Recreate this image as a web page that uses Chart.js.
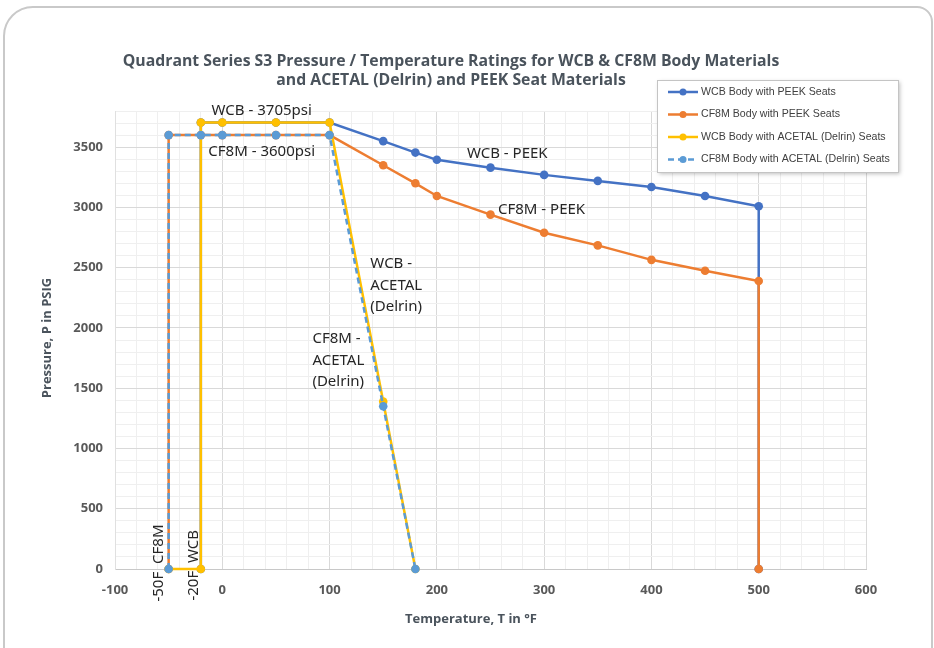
<!DOCTYPE html>
<html lang="en">
<head>
    <meta charset="UTF-8">
    <title>Quadrant Series S3 Pressure / Temperature Ratings</title>
    <script src="https://cdn.jsdelivr.net/npm/chart.js"></script>
    <style>
        html, body { margin: 0; padding: 0; background: #fff; }
        #card {
            position: absolute; left: 3px; top: 6px;
            width: 930px; height: 700px;
            border: 2px solid #c9c9c9;
            border-radius: 30px 16px 0 0;
            box-sizing: border-box;
        }
        #chart-container { position: absolute; left: 0; top: 0; width: 934px; height: 648px; }
    </style>
</head>
<body>
    <div id="card"></div>
    <div id="chart-container">
        <canvas id="ratingChart" width="934" height="648"></canvas>
    </div>

    <script>
        // series (temperature in F, pressure in psig)
        var wcbPeekT = [-20, -20, 0, 50, 100, 150, 180, 200, 250, 300, 350, 400, 450, 500, 500];
        var wcbPeekP = [0, 3705, 3705, 3705, 3705, 3550, 3455, 3395, 3330, 3270, 3220, 3170, 3095, 3010, 0];
        var cf8mPeekT = [-50, -50, -20, 0, 50, 100, 150, 180, 200, 250, 300, 350, 400, 450, 500, 500];
        var cf8mPeekP = [0, 3600, 3600, 3600, 3600, 3600, 3350, 3200, 3095, 2940, 2790, 2685, 2565, 2475, 2390, 0];
        var wcbAcetalT = [-50, -20, -20, 0, 50, 100, 150, 180];
        var wcbAcetalP = [0, 0, 3705, 3705, 3705, 3705, 1390, 0];
        var cf8mAcetalT = [-50, -50, -20, 0, 50, 100, 150, 180];
        var cf8mAcetalP = [0, 3600, 3600, 3600, 3600, 3600, 1350, 0];

        var seriesNames = ['WCB Body with PEEK Seats', 'CF8M Body with PEEK Seats',
            'WCB Body with ACETAL (Delrin) Seats', 'CF8M Body with ACETAL (Delrin) Seats'];

        var titleLines = ['Quadrant Series S3 Pressure / Temperature Ratings for WCB & CF8M Body Materials',
            'and ACETAL (Delrin) and PEEK Seat Materials'];
        var xTitle = 'Temperature, T in \u00B0F';
        var yTitle = 'Pressure, P in PSIG';

        // text notes placed at data coordinates (left edge, middle of first line)
        var notes = [
            { text: ['WCB - 3705psi'], t: -10, p: 3800 },
            { text: ['CF8M - 3600psi'], t: -13, p: 3460 },
            { text: ['WCB - PEEK'], t: 228, p: 3443 },
            { text: ['CF8M - PEEK'], t: 257, p: 2979 },
            { text: ['WCB -', 'ACETAL', '(Delrin)'], t: 138, p: 2530 },
            { text: ['CF8M -', 'ACETAL', '(Delrin)'], t: 84, p: 1908 }
        ];
        var sideNotes = [
            { text: '-50F  CF8M', t: -59, p: -270 },
            { text: '-20F  WCB', t: -27, p: -262 }
        ];

        function pts(ts, ps) {
            return ts.map(function (t, i) { return { x: t, y: ps[i] }; });
        }

        var overlay = {
            id: 'overlay',
            afterDatasetsDraw: function (chart) {
                var ctx = chart.ctx, xs = chart.scales.x, ys = chart.scales.y;
                ctx.save();
                ctx.fillStyle = '#262626';
                ctx.font = '15px "Noto Sans"';
                ctx.textAlign = 'left';
                ctx.textBaseline = 'middle';
                notes.forEach(function (n) {
                    var x = xs.getPixelForValue(n.t), y = ys.getPixelForValue(n.p);
                    n.text.forEach(function (line, i) { ctx.fillText(line, x, y + i * 21.5); });
                });
                sideNotes.forEach(function (n) {
                    ctx.save();
                    ctx.translate(xs.getPixelForValue(n.t), ys.getPixelForValue(n.p));
                    ctx.rotate(-Math.PI / 2);
                    ctx.fillText(n.text, 0, 0);
                    ctx.restore();
                });

                // titles
                ctx.fillStyle = '#4a535c';
                ctx.textAlign = 'center';
                ctx.font = 'bold 15.8px "Open Sans"';
                ctx.fillText(titleLines[0], 451, 61);
                ctx.fillText(titleLines[1], 451, 80);
                ctx.font = 'bold 13px "Open Sans"';
                ctx.fillText(xTitle, 471, 619);
                ctx.save();
                ctx.translate(47, 338);
                ctx.rotate(-Math.PI / 2);
                ctx.fillText(yTitle, 0, 0);
                ctx.restore();

                // legend box
                var bx = 657, by = 80, bw = 241, bh = 92;
                ctx.save();
                ctx.shadowColor = 'rgba(0,0,0,0.25)';
                ctx.shadowBlur = 4;
                ctx.shadowOffsetX = 2;
                ctx.shadowOffsetY = 2;
                ctx.fillStyle = '#fff';
                ctx.fillRect(bx, by, bw, bh);
                ctx.restore();
                ctx.strokeStyle = '#c4c4c4';
                ctx.lineWidth = 1;
                ctx.strokeRect(bx + 0.5, by + 0.5, bw, bh);
                ctx.font = '10.6px "Liberation Sans"';
                ctx.textAlign = 'left';
                ctx.fillStyle = '#404040';
                chart.data.datasets.forEach(function (ds, i) {
                    var ry = by + 12 + i * 22.5;
                    ctx.save();
                    ctx.strokeStyle = ds.borderColor;
                    ctx.lineWidth = 2.5;
                    if (ds.borderDash) ctx.setLineDash([6, 4]);
                    ctx.beginPath();
                    ctx.moveTo(668, ry);
                    ctx.lineTo(698, ry);
                    ctx.stroke();
                    ctx.setLineDash([]);
                    ctx.fillStyle = ds.pointBackgroundColor;
                    ctx.beginPath();
                    ctx.arc(683, ry, 3.5, 0, Math.PI * 2);
                    ctx.fill();
                    ctx.restore();
                    ctx.fillText(ds.label, 701, ry);
                });
                ctx.restore();
            }
        };

        function gridColor(major) {
            return function (c) {
                return c.tick && c.tick.value % major === 0 ? '#d9d9d9' : '#efefef';
            };
        }

        var ctx = document.getElementById('ratingChart').getContext('2d');
        var ratingChart = new Chart(ctx, {
            type: 'scatter',
            data: {
                datasets: [
                    {
                        label: seriesNames[0], data: pts(wcbPeekT, wcbPeekP),
                        borderColor: '#4472C4', pointBackgroundColor: '#4472C4', order: 3
                    },
                    {
                        label: seriesNames[1], data: pts(cf8mPeekT, cf8mPeekP),
                        borderColor: '#ED7D31', pointBackgroundColor: '#ED7D31', order: 2
                    },
                    {
                        label: seriesNames[2], data: pts(wcbAcetalT, wcbAcetalP),
                        borderColor: '#FFC000', pointBackgroundColor: '#FFC000', order: 1
                    },
                    {
                        label: seriesNames[3], data: pts(cf8mAcetalT, cf8mAcetalP),
                        borderColor: '#5B9BD5', pointBackgroundColor: '#5B9BD5', order: 0,
                        borderDash: [6, 4]
                    }
                ]
            },
            options: {
                responsive: false,
                animation: false,
                layout: { padding: { left: 0, top: 111, right: 68, bottom: 0 } },
                datasets: {
                    scatter: {
                        showLine: true, borderWidth: 2.5, pointRadius: 4.3, pointBorderWidth: 0,
                        pointHoverRadius: 4.3, clip: false
                    }
                },
                plugins: { legend: { display: false }, tooltip: { enabled: false } },
                scales: {
                    x: {
                        type: 'linear', min: -100, max: 600,
                        afterFit: function (s) { s.height = 79; },
                        grid: { color: gridColor(100), drawTicks: false },
                        border: { color: '#c8c8c8' },
                        ticks: {
                            stepSize: 20, autoSkip: false, maxRotation: 0, padding: 13,
                            color: '#595959', font: { family: 'Open Sans', size: 13, weight: 'bold' },
                            callback: function (v) { return v % 100 === 0 ? v : ''; }
                        }
                    },
                    y: {
                        type: 'linear', min: 0, max: 3800,
                        afterFit: function (s) { s.width = 115; },
                        grid: { color: gridColor(500), drawTicks: false },
                        border: { color: '#e0e0e0' },
                        ticks: {
                            stepSize: 100, autoSkip: false, padding: 12,
                            color: '#595959', font: { family: 'Open Sans', size: 13, weight: 'bold' },
                            callback: function (v) { return v % 500 === 0 ? v : ''; }
                        }
                    }
                }
            },
            plugins: [overlay]
        });
    </script>
</body>
</html>
